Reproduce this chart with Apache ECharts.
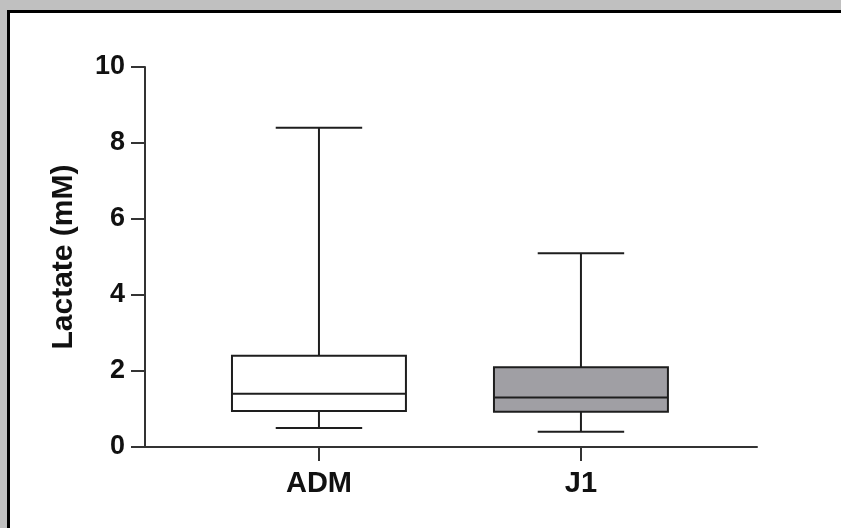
<!DOCTYPE html>
<html>
<head>
<meta charset="utf-8">
<script src="https://cdn.jsdelivr.net/npm/echarts@6/dist/echarts.min.js"></script>
<style>
  html, body { margin: 0; padding: 0; width: 841px; height: 528px; overflow: hidden; background: #c0c0c0; }
  #frame { position: absolute; left: 7px; top: 10px; width: 900px; height: 600px; background: #fff; border-left: 3px solid #000; border-top: 3px solid #000; }
  #chart { position: absolute; left: 0; top: 0; width: 841px; height: 528px; }
</style>
</head>
<body>
<div id="frame"></div>
<div id="chart"></div>
<script>
const categories = ['ADM', 'J1'];
const whiskerLow = [0.5, 0.4];
const q1 = [0.95, 0.93];
const median = [1.4, 1.3];
const q3 = [2.4, 2.1];
const whiskerHigh = [8.4, 5.1];
const boxFill = ['#ffffff', '#a09fa4'];
const yMin = 0, yMax = 10, yStep = 2;

const data = categories.map((c, i) => [i, whiskerLow[i], q1[i], median[i], q3[i], whiskerHigh[i]]);
const stroke = '#1e1e1e';
const lw = 2;
const font = '"Liberation Sans", Arial, Helvetica, sans-serif';

function renderItem(params, api) {
  const x = api.value(0);
  const pLo = api.coord([x, api.value(1)]);
  const yQ1 = api.coord([x, api.value(2)])[1];
  const yMed = api.coord([x, api.value(3)])[1];
  const yQ3 = api.coord([x, api.value(4)])[1];
  const yHi = api.coord([x, api.value(5)])[1];
  const cx = pLo[0], yLo = pLo[1];
  const unit = api.size([1, 0])[0];
  const bw = unit * 0.664, cw = unit * 0.33;
  const st = { stroke: stroke, lineWidth: lw, fill: null };
  return {
    type: 'group',
    children: [
      { type: 'line', shape: { x1: cx, y1: yQ3, x2: cx, y2: yHi }, style: st },
      { type: 'line', shape: { x1: cx, y1: yQ1, x2: cx, y2: yLo }, style: st },
      { type: 'line', shape: { x1: cx - cw / 2, y1: yHi, x2: cx + cw / 2, y2: yHi }, style: st },
      { type: 'line', shape: { x1: cx - cw / 2, y1: yLo, x2: cx + cw / 2, y2: yLo }, style: st },
      { type: 'rect', shape: { x: cx - bw / 2, y: yQ3, width: bw, height: yQ1 - yQ3 },
        style: { fill: boxFill[params.dataIndex], stroke: stroke, lineWidth: lw } },
      { type: 'line', shape: { x1: cx - bw / 2, y1: yMed, x2: cx + bw / 2, y2: yMed }, style: st }
    ]
  };
}

const chart = echarts.init(document.getElementById('chart'), null, { renderer: 'canvas' });
chart.setOption({
  backgroundColor: 'transparent',
  animation: false,
  grid: { left: 145, right: 84, top: 67, bottom: 81, containLabel: false },
  xAxis: {
    type: 'value',
    min: -0.664, max: 1.672,
    splitLine: { show: false },
    axisLine: { show: true, onZero: false, lineStyle: { color: '#333', width: 2 } },
    axisTick: { show: true, customValues: [0, 1], length: 14, lineStyle: { color: '#333', width: 2 } },
    axisLabel: {
      customValues: [0, 1],
      formatter: v => categories[Math.round(v)],
      margin: 22, fontSize: 29, fontWeight: 'bold', color: '#111', fontFamily: font
    }
  },
  yAxis: {
    type: 'value',
    min: yMin, max: yMax, interval: yStep,
    name: 'Lactate (mM)',
    nameLocation: 'middle', nameRotate: 90, nameGap: 66,
    nameTextStyle: { fontSize: 30, fontWeight: 'bold', color: '#111', fontFamily: font },
    splitLine: { show: false },
    axisLine: { show: true, onZero: false, lineStyle: { color: '#333', width: 2 } },
    axisTick: { show: true, length: 14, lineStyle: { color: '#333', width: 2 } },
    axisLabel: { margin: 20, fontSize: 27, fontWeight: 'bold', color: '#111', fontFamily: font }
  },
  series: [{
    type: 'custom',
    renderItem: renderItem,
    encode: { x: 0, y: [1, 2, 3, 4, 5] },
    data: data
  }]
});
</script>
</body>
</html>
